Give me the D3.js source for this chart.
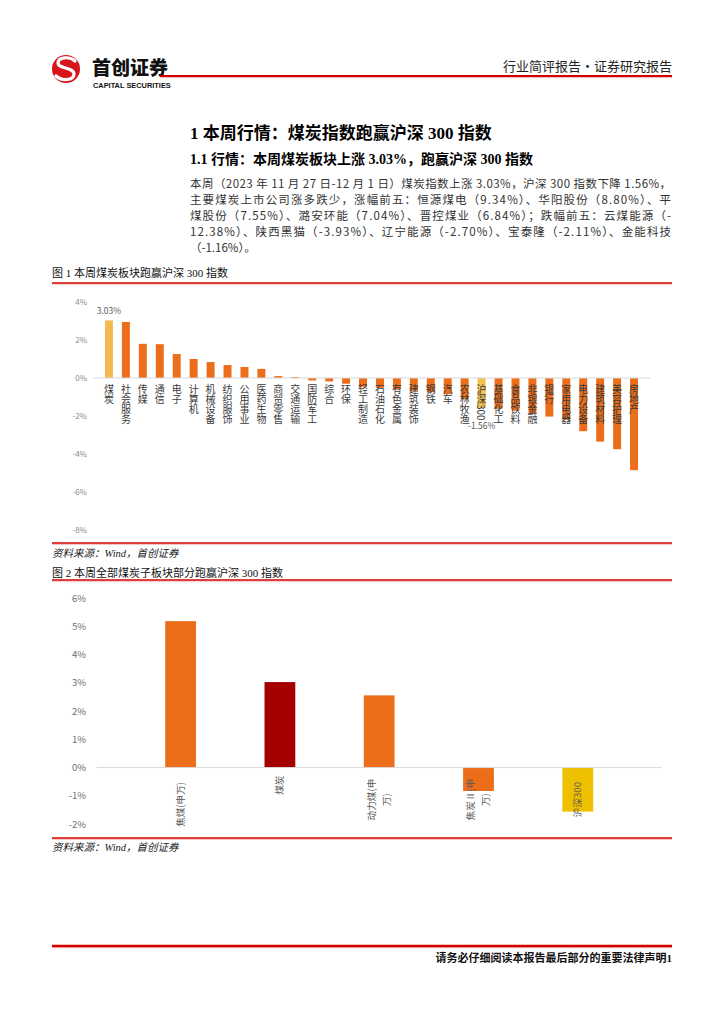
<!DOCTYPE html>
<html>
<head>
<meta charset="utf-8">
<script src="https://cdn.jsdelivr.net/npm/d3@7"></script>
<style>
  body { margin: 0; background: #fff; }
  svg { display: block; font-family: "Noto Sans CJK SC", sans-serif; }
</style>
</head>
<body>
<div id="page"></div>
<script>
// 图1：申万一级行业本周涨跌幅（%）
const industries = ["煤炭", "社会服务", "传媒", "通信", "电子", "计算机", "机械设备", "纺织服饰",
  "公用事业", "医药生物", "商贸零售", "交通运输", "国防军工", "综合", "环保", "轻工制造",
  "石油石化", "有色金属", "建筑装饰", "钢铁", "汽车", "农林牧渔", "沪深300", "基础化工",
  "食品饮料", "非银金融", "银行", "家用电器", "电力设备", "建筑材料", "美容护理", "房地产"];
const industryChange = [3.03, 2.95, 1.8, 1.78, 1.26, 1.0, 0.84, 0.68,
  0.58, 0.48, 0.1, 0.05, -0.13, -0.18, -0.3, -0.47,
  -0.52, -0.58, -0.68, -0.75, -0.85, -1.1, -1.56, -1.62,
  -1.72, -1.85, -2.03, -2.2, -2.8, -3.35, -3.75, -4.85];
const ticks1 = [4, 2, 0, -2, -4, -6, -8];

// 图2：煤炭子板块本周涨跌幅（%）
const subSectors = [["焦煤(申万)"], ["煤炭"], ["动力煤(申", "万)"], ["焦炭Ⅱ(申", "万)"], ["沪深300"]];
const subChange = [5.19, 3.03, 2.56, -0.83, -1.56];
const ticks2 = [6, 5, 4, 3, 2, 1, 0, -1, -2];

const paragraph = [
  "本周（2023 年 11 月 27 日-12 月 1 日）煤炭指数上涨 3.03%，沪深 300 指数下降 1.56%，",
  "主要煤炭上市公司涨多跌少，涨幅前五：恒源煤电（9.34%）、华阳股份（8.80%）、平",
  "煤股份（7.55%）、潞安环能（7.04%）、晋控煤业（6.84%）；跌幅前五：云煤能源（-",
  "12.38%）、陕西黑猫（-3.93%）、辽宁能源（-2.70%）、宝泰隆（-2.11%）、金能科技",
  "（-1.16%）。"
];

const orange = "#ec6e1a";
const serif = "'Liberation Serif', 'Noto Sans CJK SC', serif";

const svg = d3.select("#page").append("svg")
    .attr("width", 724)
    .attr("height", 1024);

// 红色分隔线（深红 + 浅红阴影）
function redRule(x1, x2, y, w) {
  svg.append("line").attr("x1", x1).attr("x2", x2).attr("y1", y + w / 2 + 0.5).attr("y2", y + w / 2 + 0.5)
    .style("stroke", "#f2b8b8").style("stroke-width", 1);
  svg.append("line").attr("x1", x1).attr("x2", x2).attr("y1", y).attr("y2", y)
    .style("stroke", "#d40000").style("stroke-width", w);
}

// ---- 页眉 ----
svg.append("circle").attr("cx", 66).attr("cy", 69).attr("r", 14).style("fill", "#d7141a");
svg.append("path")
    .attr("d", "M75,61 C70,56 58,57 58,63 C58,69 74,67 74,74 C74,81 61,81 56,76")
    .style("fill", "none").style("stroke", "#fff").style("stroke-width", 3.2)
    .style("stroke-linecap", "round");
svg.append("text").attr("x", 92).attr("y", 75)
    .style("font-size", "19px").style("font-weight", 900).style("fill", "#111")
    .text("首创证券");
svg.append("text").attr("x", 93).attr("y", 88)
    .style("font-family", "'Liberation Sans', Arial, sans-serif")
    .style("font-size", "7.4px").style("font-weight", "bold").style("fill", "#111")
    .text("CAPITAL SECURITIES");
redRule(160, 672, 76, 2.2);
svg.append("text").attr("x", 672).attr("y", 71).attr("text-anchor", "end")
    .style("font-size", "13px").style("fill", "#222")
    .text("行业简评报告·证券研究报告");

// ---- 标题与正文 ----
svg.append("text").attr("x", 190).attr("y", 139)
    .style("font-family", serif).style("font-size", "17px").style("font-weight", "bold")
    .text("1 本周行情：煤炭指数跑赢沪深 300 指数");
svg.append("text").attr("x", 190).attr("y", 164)
    .style("font-family", serif).style("font-size", "14px").style("font-weight", "bold")
    .text("1.1 行情：本周煤炭板块上涨 3.03%，跑赢沪深 300 指数");
svg.selectAll(".para")
    .data(paragraph)
  .enter()
    .append("text")
    .attr("class", "para")
    .attr("x", 190)
    .attr("y", (d, i) => 188 + 16 * i)
    .attr("textLength", (d, i) => i < 4 ? 481 : null)
    .attr("lengthAdjust", "spacing")
    .style("font-size", "11.5px")
    .style("fill", "#333")
    .text((d) => d);

// ---- 图1 ----
svg.append("text").attr("x", 52).attr("y", 277)
    .style("font-family", serif).style("font-size", "11px").style("fill", "#111")
    .text("图 1 本周煤炭板块跑赢沪深 300 指数");
redRule(52, 672, 283, 1.4);

const x1 = d3.scaleBand().domain(industries).range([96, 647]).padding(0.53);
const y1 = d3.scaleLinear().domain([-8, 4]).range([530, 302]);

const chart1 = svg.append("g").attr("class", "chart1");
chart1.selectAll(".tick1")
    .data(ticks1)
  .enter()
    .append("text")
    .attr("x", 87)
    .attr("y", (d) => y1(d) + 3)
    .attr("text-anchor", "end")
    .style("font-size", "8px").style("fill", "#8a8a8a")
    .text((d) => d + "%");

const color1 = (d) => d === "煤炭" ? "#f4b94f" : d === "沪深300" ? "#f2c14e" : orange;
chart1.selectAll(".bar1")
    .data(industries)
  .enter()
    .append("rect")
    .attr("x", (d) => x1(d))
    .attr("width", x1.bandwidth())
    .attr("y", (d, i) => y1(Math.max(0, industryChange[i])))
    .attr("height", (d, i) => Math.abs(y1(industryChange[i]) - y1(0)))
    .style("fill", color1);

chart1.append("line")
    .attr("x1", 93).attr("x2", 650).attr("y1", y1(0)).attr("y2", y1(0))
    .style("stroke", "#d9d9d9").style("stroke-width", 1);

// 竖排分类标签
chart1.selectAll(".cat1")
    .data(industries)
  .enter()
    .append("text")
    .attr("x", (d) => x1(d) + x1.bandwidth() / 2)
    .attr("y", y1(0) + 6)
    .style("writing-mode", "vertical-rl")
    .style("font-size", "10px").style("fill", "#3a3a3a")
    .text((d) => d);

// 数据标签
const labelled = ["煤炭", "沪深300"];
chart1.selectAll(".dl1")
    .data(labelled)
  .enter()
    .append("text")
    .attr("x", (d) => x1(d) + x1.bandwidth() / 2)
    .attr("y", (d) => {
      const v = industryChange[industries.indexOf(d)];
      return v >= 0 ? y1(v) - 6 : y1(v) + 21;
    })
    .attr("text-anchor", "middle")
    .style("font-size", "8.5px").style("fill", "#595959")
    .text((d) => industryChange[industries.indexOf(d)].toFixed(2) + "%");

redRule(52, 672, 543, 1.6);
svg.append("text").attr("x", 52).attr("y", 557)
    .style("font-family", serif).style("font-size", "10.5px").style("font-style", "italic").style("fill", "#222")
    .text("资料来源：Wind，首创证券");

// ---- 图2 ----
svg.append("text").attr("x", 52).attr("y", 577)
    .style("font-family", serif).style("font-size", "11px").style("fill", "#111")
    .text("图 2 本周全部煤炭子板块部分跑赢沪深 300 指数");
redRule(52, 672, 580, 1.4);

const names2 = subSectors.map((d) => d.join(""));
const x2 = d3.scaleBand().domain(names2).range([96.7, 661.7]).padding(0.69);
const y2 = d3.scaleLinear().domain([-2, 6]).range([824, 598.3]);
const color2 = ["#ec6e1a", "#a50000", "#ec6e1a", "#ec6e1a", "#efc000"];

const chart2 = svg.append("g").attr("class", "chart2");
chart2.selectAll(".tick2")
    .data(ticks2)
  .enter()
    .append("text")
    .attr("x", 86)
    .attr("y", (d) => y2(d) + 3.5)
    .attr("text-anchor", "end")
    .style("font-size", "9.5px").style("fill", "#6e6e6e")
    .text((d) => d + "%");

chart2.selectAll(".bar2")
    .data(names2)
  .enter()
    .append("rect")
    .attr("x", (d) => x2(d))
    .attr("width", x2.bandwidth())
    .attr("y", (d, i) => y2(Math.max(0, subChange[i])))
    .attr("height", (d, i) => Math.abs(y2(subChange[i]) - y2(0)))
    .style("fill", (d, i) => color2[i]);

chart2.append("line")
    .attr("x1", 96.7).attr("x2", 661.7).attr("y1", y2(0)).attr("y2", y2(0))
    .style("stroke", "#d9d9d9").style("stroke-width", 1);

// 旋转的分类标签（可两行）
subSectors.forEach((lines, i) => {
  const cx = x2(names2[i]) + x2.bandwidth() / 2;
  const longest = d3.max(lines, (s) => s.length) * 9.6;
  const cy = y2(0) + 8 + longest / 2;
  lines.forEach((s, j) => {
    const lx = cx + (j - (lines.length - 1) / 2) * 15 + 3.5;
    chart2.append("text")
      .attr("transform", "translate(" + lx + "," + cy + ") rotate(-90)")
      .attr("text-anchor", "middle")
      .style("font-size", "9.6px").style("fill", "#595959")
      .text(s);
  });
});

redRule(52, 672, 838, 1.6);
svg.append("text").attr("x", 52).attr("y", 851)
    .style("font-family", serif).style("font-size", "10.5px").style("font-style", "italic").style("fill", "#222")
    .text("资料来源：Wind，首创证券");

// ---- 页脚 ----
redRule(52, 672, 946, 2.4);
svg.append("text").attr("x", 672).attr("y", 962).attr("text-anchor", "end")
    .style("font-family", serif).style("font-size", "11px").style("font-weight", "bold").style("fill", "#111")
    .text("请务必仔细阅读本报告最后部分的重要法律声明1");
</script>
</body>
</html>
